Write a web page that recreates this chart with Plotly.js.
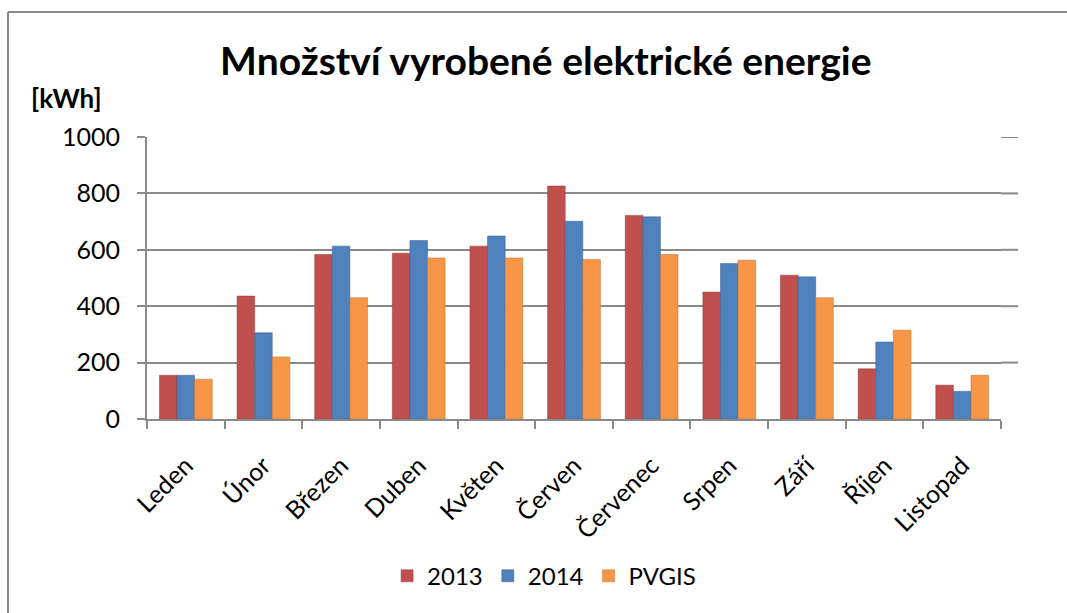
<!DOCTYPE html>
<html>
<head>
<meta charset="utf-8">
<script src="https://cdn.plot.ly/plotly-3.0.1.min.js"></script>
<style>html,body{margin:0;padding:0;background:#fff;}#chart{width:1067px;height:613px;}</style>
</head>
<body>
<div id="chart"></div>
<script>
const months = ["Leden","Únor","Březen","Duben","Květen","Červen","Červenec","Srpen","Září","Říjen","Listopad"];
const values2013 = [155, 436, 583, 588, 613, 826, 722, 450, 510, 178, 120];
const values2014 = [155, 306, 613, 633, 649, 701, 717, 551, 504, 273, 98];
const valuesPVGIS = [141, 220, 430, 571, 571, 566, 583, 563, 430, 315, 155];
const seriesNames = ["2013", "2014", "PVGIS"];
const yTicks = [0, 200, 400, 600, 800, 1000];

const colors = ["#C0504D", "#4F81BD", "#F79646"];
const edge = ["#8C3836", "#385D8A", "#B66D31"];
const series = [values2013, values2014, valuesPVGIS];

const data = series.map((v, i) => ({
  type: "bar",
  name: seriesNames[i],
  x: months,
  y: v,
  marker: {color: colors[i], line: {color: edge[i], width: 0.5}},
  hoverinfo: "x+y+name"
}));

const font = "Lato, 'Open Sans', 'DejaVu Sans', sans-serif";
const gridColor = "#8a8a8a";

const gridExt = yTicks.slice(1).map(t => ({
  type: "line", xref: "paper", yref: "y", x0: 1, x1: 1.02, y0: t, y1: t,
  line: {color: gridColor, width: 2}
}));

const layout = {
  width: 1067, height: 613,
  paper_bgcolor: "#fff", plot_bgcolor: "#fff",
  margin: {l: 147, r: 66, t: 137, b: 194, autoexpand: false},
  title: {text: "Množství vyrobené elektrické energie", font: {family: font, size: 39, color: "#000", weight: "bold"}, x: 0.467, xanchor: "center", xref: "paper", y: 0.9, yanchor: "middle"},
  barmode: "group",
  bargap: 0.32,
  bargroupgap: 0,
  showlegend: true,
  legend: {orientation: "h", x: 0.465, xanchor: "center", yref: "container", y: 0.06, yanchor: "middle", font: {family: font, size: 24, color: "#000"}, traceorder: "normal"},
  xaxis: {
    type: "category",
    tickangle: -45,
    tickfont: {family: font, size: 25, color: "#000"},
    ticklabelstandoff: 20,
    showline: true, linecolor: gridColor, linewidth: 2,
    ticks: "outside", tickson: "boundaries", ticklen: 8, tickcolor: gridColor, tickwidth: 2,
    showgrid: false, zeroline: false, fixedrange: true, automargin: false
  },
  yaxis: {
    range: [0, 1000],
    tickvals: yTicks,
    ticktext: yTicks.map(String),
    tickfont: {family: font, size: 25, color: "#000"},
    ticklabelstandoff: 12,
    showline: true, linecolor: gridColor, linewidth: 2,
    ticks: "outside", ticklen: 8, tickcolor: gridColor, tickwidth: 2,
    showgrid: true, gridcolor: gridColor, gridwidth: 2,
    zeroline: false, fixedrange: true, automargin: false
  },
  annotations: [{
    text: "<b>[kWh]</b>", xref: "paper", yref: "paper", x: -0.138, y: 1.14,
    xanchor: "left", yanchor: "middle", showarrow: false,
    font: {family: font, size: 26, color: "#000"}
  }],
  shapes: [
    {type: "line", xref: "paper", yref: "paper", x0: -0.1628, x1: -0.1628, y0: 1.443, y1: -0.7, line: {color: gridColor, width: 2}},
    {type: "line", xref: "paper", yref: "paper", x0: -0.1628, x1: 1.2, y0: 1.443, y1: 1.443, line: {color: gridColor, width: 2}}
  ].concat(gridExt)
};

Plotly.newPlot("chart", data, layout, {displayModeBar: false, staticPlot: true});
</script>
</body>
</html>
